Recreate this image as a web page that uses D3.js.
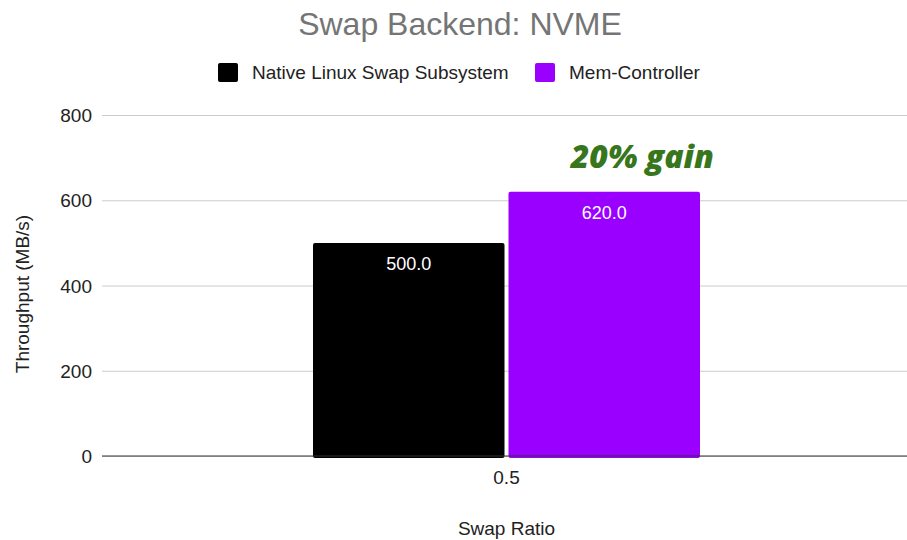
<!DOCTYPE html>
<html>
<head>
<meta charset="utf-8">
<script src="https://cdn.jsdelivr.net/npm/d3@7"></script>
<style>
  body { margin: 0; background: #fff; }
  text { font-family: "Liberation Sans", Arial, sans-serif; }
</style>
</head>
<body>
<div id="chart"></div>
<script>
var title = "Swap Backend: NVME";
var categories = ["0.5"];
var seriesNames = ["Native Linux Swap Subsystem", "Mem-Controller"];
var seriesColors = ["#000000", "#9900ff"];
var nativeValues = [500];
var memControllerValues = [620];
var yTicks = [0, 200, 400, 600, 800];

var W = 907, H = 540;
var margin = {top: 115, right: -4, bottom: 84, left: 102},
    width = W - margin.left - margin.right,
    height = H - margin.top - margin.bottom;

var svg = d3.select("#chart")
    .append("svg")
        .attr("width", W)
        .attr("height", H)
    .append("g")
        .attr("transform", "translate(" + margin.left + "," + margin.top + ")");

// scales
var x = d3.scaleBand()
    .domain(categories)
    .range([0, width]);
var xSub = d3.scaleBand()
    .domain(seriesNames)
    .range([x.bandwidth() / 2 - 193.5, x.bandwidth() / 2 + 193.5])
    .paddingInner(0.0205);
var y = d3.scaleLinear()
    .domain([0, 800])
    .range([height, 0]);

// gridlines
svg.append("g")
    .call(d3.axisLeft(y).tickValues(yTicks).tickSize(-width).tickFormat(""))
    .call(g => g.select(".domain").remove())
    .call(g => g.selectAll("line").attr("stroke", "#cccccc"));

// y tick labels
svg.append("g")
    .selectAll("text")
    .data(yTicks)
    .join("text")
        .attr("x", -10)
        .attr("y", d => y(d) + 7)
        .attr("text-anchor", "end")
        .style("font-size", "19px")
        .style("fill", "#222")
        .text(d => d);

var data = categories.map(function(c, i) {
    return [
        {cat: c, name: seriesNames[0], value: nativeValues[i], color: seriesColors[0]},
        {cat: c, name: seriesNames[1], value: memControllerValues[i], color: seriesColors[1]}
    ];
}).flat();

// bars
svg.selectAll(".bar")
    .data(data)
    .join("rect")
        .attr("class", "bar")
        .attr("x", d => x(d.cat) + xSub(d.name))
        .attr("y", d => y(d.value))
        .attr("width", xSub.bandwidth())
        .attr("height", d => height - y(d.value) + 2)
        .attr("rx", 2)
        .style("fill", d => d.color);

// value labels
svg.selectAll(".val")
    .data(data)
    .join("text")
        .attr("class", "val")
        .attr("x", d => x(d.cat) + xSub(d.name) + xSub.bandwidth() / 2)
        .attr("y", d => y(d.value) + 27)
        .attr("text-anchor", "middle")
        .style("font-size", "18px")
        .style("fill", "#ffffff")
        .text(d => d.value.toFixed(1));

// baseline
svg.append("line")
    .attr("x1", 0).attr("x2", width)
    .attr("y1", y(0)).attr("y2", y(0))
    .attr("stroke", "#333")
    .attr("stroke-width", 1.2);

// x tick label
svg.append("g")
    .selectAll("text")
    .data(categories)
    .join("text")
        .attr("x", d => x(d) + x.bandwidth() / 2)
        .attr("y", height + 28)
        .attr("text-anchor", "middle")
        .style("font-size", "19px")
        .style("fill", "#222")
        .text(d => d);

// annotation
svg.append("text")
    .attr("x", x(categories[0]) + xSub(seriesNames[1]) + xSub.bandwidth() / 2 + 38)
    .attr("y", y(memControllerValues[0]) - 24)
    .attr("text-anchor", "middle")
    .style("font-family", "'Open Sans', sans-serif")
    .style("font-weight", "800")
    .style("font-style", "italic")
    .style("font-size", "32px")
    .style("fill", "#38761d")
    .text("20% gain");

// axis titles
svg.append("text")
    .attr("x", x(categories[0]) + x.bandwidth() / 2)
    .attr("y", height + 79)
    .attr("text-anchor", "middle")
    .style("font-size", "19px")
    .style("fill", "#222")
    .text("Swap Ratio");

svg.append("text")
    .attr("transform", "translate(" + (29 - margin.left) + "," + (294 - margin.top) + ") rotate(-90)")
    .attr("text-anchor", "middle")
    .style("font-size", "19px")
    .style("fill", "#222")
    .text("Throughput (MB/s)");

// title
d3.select("svg").append("text")
    .attr("x", 460)
    .attr("y", 35)
    .attr("text-anchor", "middle")
    .style("font-size", "32px")
    .style("fill", "#757575")
    .text(title);

// legend
var legend = d3.select("svg").append("g")
    .attr("transform", "translate(218,63)");
var legendX = [0, 317];
var items = legend.selectAll("g")
    .data(seriesNames)
    .join("g")
        .attr("transform", (d, i) => "translate(" + legendX[i] + ",0)");
items.append("rect")
    .attr("width", 20).attr("height", 19).attr("rx", 2)
    .style("fill", (d, i) => seriesColors[i]);
items.append("text")
    .attr("x", 34).attr("y", 16)
    .style("font-size", "19px")
    .style("fill", "#222")
    .text(d => d);
</script>
</body>
</html>
